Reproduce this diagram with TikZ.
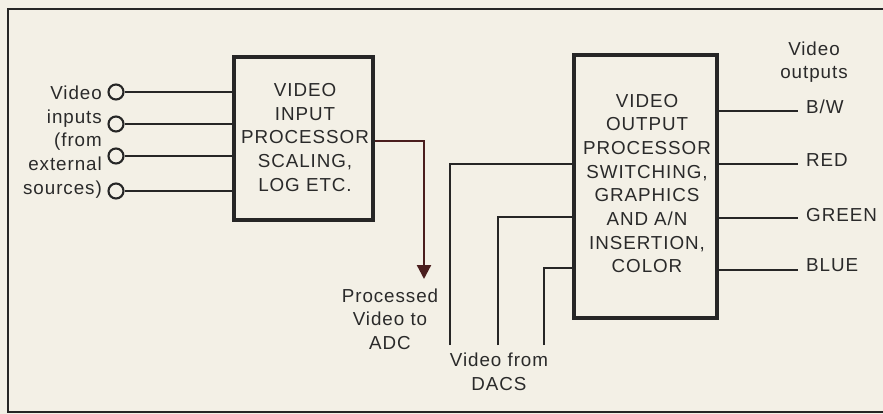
\documentclass[tikz,border=0pt]{standalone}
\usepackage{fontspec}
\setmainfont{Liberation Sans}[LetterSpace=5]
\usetikzlibrary{arrows.meta}
\definecolor{paper}{HTML}{F3F0E6}
\definecolor{ink}{HTML}{262626}
\definecolor{txt}{HTML}{2A2A2A}
\definecolor{arrowred}{HTML}{4A1E1E}
\begin{document}
\begin{tikzpicture}[x=1pt,y=-1pt,
  procbox/.style={draw=ink, line width=3.6pt, inner sep=0pt},
  boxtext/.style={align=center, text=txt, font=\fontsize{18.8}{23.7}\selectfont, inner sep=0pt},
  lbl/.style={text=txt, font=\fontsize{18.8}{23.7}\selectfont, inner sep=0pt},
  wire/.style={draw=ink, line width=2.3pt},
  jack/.style={circle, draw=ink, line width=2.1pt, minimum size=15pt, inner sep=0pt}]
\fill[paper] (0,0) rectangle (883,414);
\useasboundingbox (0,0) rectangle (883,414);
% outer frame
\draw[ink, line width=2.5pt] (8,9) rectangle (900,412);

% input processor
\node[procbox, minimum width=139pt, minimum height=163pt] (inbox) at (303.5,138.5) {};
\node[boxtext] (intext) at (305,137.5) {VIDEO\\INPUT\\PROCESSOR\\SCALING,\\LOG ETC.};

% input jacks
\node[jack] (j1) at (116,92) {};
\node[jack] (j2) at (116,124) {};
\node[jack] (j3) at (116,156) {};
\node[jack] (j4) at (116,191) {};
\foreach \j in {j1,j2,j3,j4}
  \draw[wire] (\j.east) -- (\j.east -| inbox.west);
\node[lbl, align=right, anchor=east] (inlbl) at (102,142) {Video\\inputs\\(from\\external\\sources)};

% processed video to ADC
\coordinate (adcturn) at (424,141);
\coordinate (adc) at (424,279);
\draw[wire, draw=arrowred, -{Triangle[length=14pt,width=14pt]}] (adcturn -| inbox.east) -- (adcturn) -- (adc);
\node[lbl, align=center] (adclbl) at (390,319) {Processed\\Video to\\ADC};

% output processor
\node[procbox, minimum width=143pt, minimum height=263pt] (outbox) at (645.5,186.5) {};
\node[boxtext] (outtext) at (647,183.5) {VIDEO\\OUTPUT\\PROCESSOR\\SWITCHING,\\GRAPHICS\\AND A/N\\INSERTION,\\COLOR};

% video from DACs
\coordinate (d1) at (450,345);
\coordinate (d2) at (498,345);
\coordinate (d3) at (544,345);
\draw[wire] (d1) |- (outbox.west |- 0,164);
\draw[wire] (d2) |- (outbox.west |- 0,217);
\draw[wire] (d3) |- (outbox.west |- 0,268);
\node[lbl, align=center] (daclbl) at (499,372) {Video from\\DACS};

% outputs
\coordinate (o1) at (798,111);
\coordinate (o2) at (798,164);
\coordinate (o3) at (798,218);
\coordinate (o4) at (798,270);
\foreach \o in {o1,o2,o3,o4}
  \draw[wire] (\o -| outbox.east) -- (\o);
\node[lbl, anchor=base west] (bw) at (806,114) {B/W};
\node[lbl, anchor=base west] (red) at (806,167) {RED};
\node[lbl, anchor=base west] (green) at (806,222) {GREEN};
\node[lbl, anchor=base west] (blue) at (806,271) {BLUE};
\node[lbl, align=center] (outlbl) at (814,62) {Video\\outputs};
\end{tikzpicture}
\end{document}
